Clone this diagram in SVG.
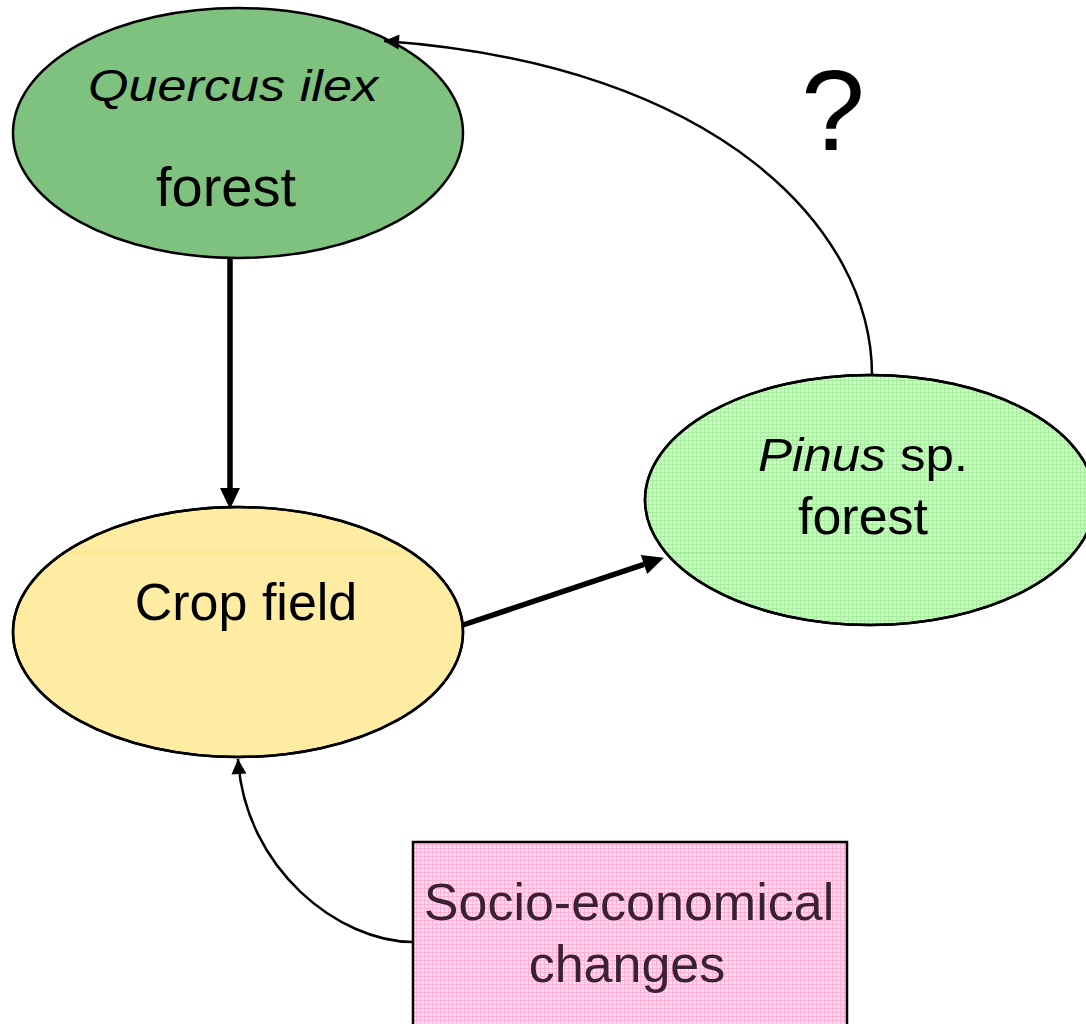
<svg xmlns="http://www.w3.org/2000/svg" width="1086" height="1024" viewBox="0 0 1086 1024">
  <style>
    .shape { stroke: #000; stroke-width: 2.5; }
    .lbl { font-family: "Liberation Sans", Arial, sans-serif; fill: #000; text-anchor: middle; }
    .dark { fill: #3a2232; }
    .thick { fill: none; stroke: #000; stroke-width: 5.5; }
    .thin { fill: none; stroke: #000; stroke-width: 2.5; }
  </style>
  <defs>
    <!-- arrowheads -->
    <marker id="headBig" markerUnits="userSpaceOnUse" markerWidth="22" markerHeight="22" refX="0" refY="10" orient="auto" overflow="visible">
      <path d="M0,0 L21,10 L0,20 Z" fill="#000"/>
    </marker>
    <marker id="headSmall" markerUnits="userSpaceOnUse" markerWidth="16" markerHeight="16" refX="15" refY="7.5" orient="auto" overflow="visible">
      <path d="M0,0 L15,7.5 L0,15 Z" fill="#000"/>
    </marker>
    <!-- fine grid fills -->
    <pattern id="gridGreen" width="4" height="4" patternUnits="userSpaceOnUse">
      <rect width="4" height="4" fill="#ccfbc8"/>
      <path d="M0,0.5 H4 M0.5,0 V4" stroke="#a6ee9e" stroke-width="1"/>
    </pattern>
    <pattern id="gridPink" width="4" height="4" patternUnits="userSpaceOnUse">
      <rect width="4" height="4" fill="#ffe0f0"/>
      <path d="M0,0.5 H4 M0.5,0 V4" stroke="#ffaed6" stroke-width="1"/>
    </pattern>
    <clipPath id="clipCrop"><ellipse cx="238" cy="632" rx="225" ry="125"/></clipPath>
    <clipPath id="clipPinus"><ellipse cx="870" cy="500" rx="225" ry="125"/></clipPath>
  </defs>

  <rect width="1086" height="1024" fill="#fff"/>

  <g id="node-quercus">
    <ellipse class="shape" cx="238" cy="133" rx="225" ry="125" fill="#7fc17f"/>
    <text class="lbl" x="233" y="101" font-size="44" font-style="italic" textLength="290" lengthAdjust="spacingAndGlyphs">Quercus ilex</text>
    <text class="lbl" x="226" y="206" font-size="56">forest</text>
  </g>

  <g id="node-crop">
    <ellipse class="shape" cx="238" cy="632" rx="225" ry="125" fill="#fdeca2"/>
    <line x1="0" y1="552" x2="480" y2="552" stroke="#fbe27a" stroke-width="1" clip-path="url(#clipCrop)"/>
    <ellipse cx="238" cy="632" rx="225" ry="125" fill="none" stroke="#000" stroke-width="2.5"/>
    <text class="lbl" x="246" y="620" font-size="52">Crop field</text>
  </g>

  <g id="node-pinus">
    <ellipse class="shape" cx="870" cy="500" rx="225" ry="125" fill="url(#gridGreen)"/>
    <line x1="640" y1="553" x2="1100" y2="553" stroke="#98ea90" stroke-width="1" clip-path="url(#clipPinus)"/>
    <ellipse cx="870" cy="500" rx="225" ry="125" fill="none" stroke="#000" stroke-width="2.5"/>
    <text class="lbl" x="863" y="471" font-size="46" textLength="210" lengthAdjust="spacingAndGlyphs"><tspan font-style="italic">Pinus</tspan> sp.</text>
    <text class="lbl" x="863" y="534" font-size="52" textLength="130" lengthAdjust="spacingAndGlyphs">forest</text>
  </g>

  <g id="node-socio">
    <rect class="shape" x="413" y="842" width="434" height="200" fill="url(#gridPink)"/>
    <text class="lbl dark" x="629" y="920" font-size="52">Socio-economical</text>
    <text class="lbl dark" x="627" y="982" font-size="52">changes</text>
  </g>

  <g id="label-question">
    <text class="lbl" x="833" y="150" font-size="115">?</text>
  </g>

  <g id="connectors">
    <!-- Quercus forest to crop field -->
    <line class="thick" x1="230" y1="258" x2="230" y2="488" marker-end="url(#headBig)"/>
    <!-- crop field to Pinus forest -->
    <line class="thick" x1="463" y1="625" x2="644" y2="564.4" marker-end="url(#headBig)"/>
    <!-- Pinus forest back to Quercus forest -->
    <path class="thin" d="M872,375 C872,230 720,65 384,41" marker-end="url(#headSmall)"/>
    <!-- socio-economical changes to crop field -->
    <path class="thin" d="M413,942 C340,942 245,870 238,759" marker-end="url(#headSmall)"/>
  </g>
</svg>
